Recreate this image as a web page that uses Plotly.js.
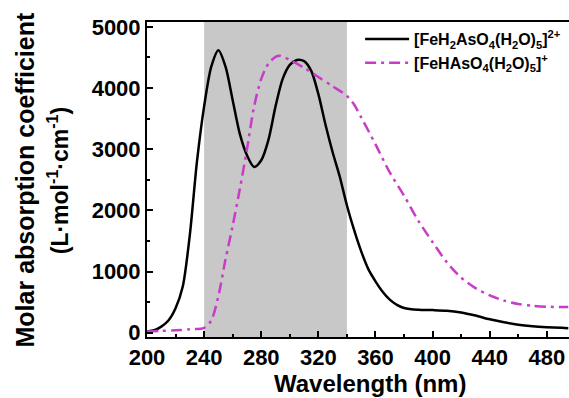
<!DOCTYPE html>
<html><head><meta charset="utf-8">
<script src="https://cdn.plot.ly/plotly-3.0.1.min.js"></script>
<style>html,body{margin:0;padding:0;background:#fff}</style>
</head><body>
<div id="chart" style="width:569px;height:398px"></div>
<script>
// Wavelength (nm) and molar absorption coefficient values
const wlA = [200,205,210,215,220,225,230,235,240,245,250,255,260,265,270,275,280,285,290,295,300,305,310,315,320,325,330,335,340,345,350,355,360,365,370,375,380,390,400,410,420,430,440,450,460,470,480,490,495];
const epsA = [20,40,100,200,400,750,1600,2800,3700,4350,4620,4350,3800,3250,2900,2710,2820,3150,3700,4150,4380,4460,4440,4280,3900,3400,2950,2550,2080,1680,1330,1040,840,670,540,455,405,375,370,360,330,280,220,170,130,105,90,80,75];
const wlB = [200,210,220,230,240,245,250,255,260,265,270,275,280,285,290,293,300,310,320,330,340,345,350,360,370,380,390,400,410,420,430,440,450,460,470,480,490,495];
const epsB = [20,30,40,55,80,200,600,1200,1750,2350,3000,3700,4150,4400,4510,4530,4460,4330,4180,4030,3870,3730,3520,3080,2620,2240,1830,1480,1150,900,730,610,525,470,440,425,420,420];
const nameA = "[FeH<sub>2</sub>AsO<sub>4</sub>(H<sub>2</sub>O)<sub>5</sub>]<sup>2+</sup>";
const nameB = "[FeHAsO<sub>4</sub>(H<sub>2</sub>O)<sub>5</sub>]<sup>+</sup>";
const shadeRange = [240, 340];
const xTicks = [200,240,280,320,360,400,440,480];
const yTicks = [0,1000,2000,3000,4000,5000];
const xTitle = "Wavelength (nm)";
const yTitle1 = "Molar absorption coefficient";
const yTitle2 = "(L·mol<sup>-1</sup>·cm<sup>-1</sup>)";

const font = {family: "Liberation Sans, Arial, sans-serif", color: "#000"};
const bold = (s) => Object.assign({size: s, weight: "bold"}, font);
const traces = [
  {x: wlA, y: epsA, name: nameA, mode: "lines", line: {color: "#000", width: 2.5, shape: "spline", smoothing: 0.8}},
  {x: wlB, y: epsB, name: nameB, mode: "lines", line: {color: "#c83cc8", width: 2.5, dash: "11px,5px,3px,5px", shape: "spline", smoothing: 0.8}}
];
const axisCommon = {
  showline: true, linecolor: "#000", linewidth: 2, ticks: "inside", ticklen: 6, tickwidth: 2, tickcolor: "#000",
  showgrid: false, zeroline: false, tickfont: bold(22)
};
const layout = {
  width: 569, height: 398,
  margin: {l: 147, r: 0, t: 22, b: 61},
  paper_bgcolor: "#fff", plot_bgcolor: "#fff",
  showlegend: true,
  legend: {x: 0.505, y: 1.0, xanchor: "left", yanchor: "top", bgcolor: "rgba(0,0,0,0)",
           font: bold(16), itemwidth: 44, tracegroupgap: 6},
  xaxis: Object.assign({}, axisCommon, {
    range: [200, 495.5], tickvals: xTicks, mirror: true,
    minor: {dtick: 20, ticks: "inside", ticklen: 3, tickwidth: 2, tickcolor: "#000"}
  }),
  yaxis: Object.assign({}, axisCommon, {
    range: [-70, 5080], tickvals: yTicks,
    minor: {dtick: 500, ticks: "inside", ticklen: 3, tickwidth: 2, tickcolor: "#000"}
  }),
  annotations: [
    {text: xTitle, xref: "paper", yref: "paper", x: 0.528, y: -0.149, xanchor: "center", yanchor: "middle", showarrow: false, font: bold(24)},
    {text: yTitle1, xref: "paper", yref: "paper", x: -0.289, y: 0.497, xanchor: "center", yanchor: "middle", textangle: -90, showarrow: false, font: bold(25)},
    {text: yTitle2, xref: "paper", yref: "paper", x: -0.209, y: 0.497, xanchor: "center", yanchor: "middle", textangle: -90, showarrow: false, font: bold(23)}
  ],
  shapes: [{type: "rect", xref: "x", yref: "paper", x0: shadeRange[0], x1: shadeRange[1], y0: 0, y1: 1,
            fillcolor: "#c8c8c8", line: {width: 0}, layer: "below"}]
};
Plotly.newPlot("chart", traces, layout, {displayModeBar: false, staticPlot: true});
</script>
</body></html>
